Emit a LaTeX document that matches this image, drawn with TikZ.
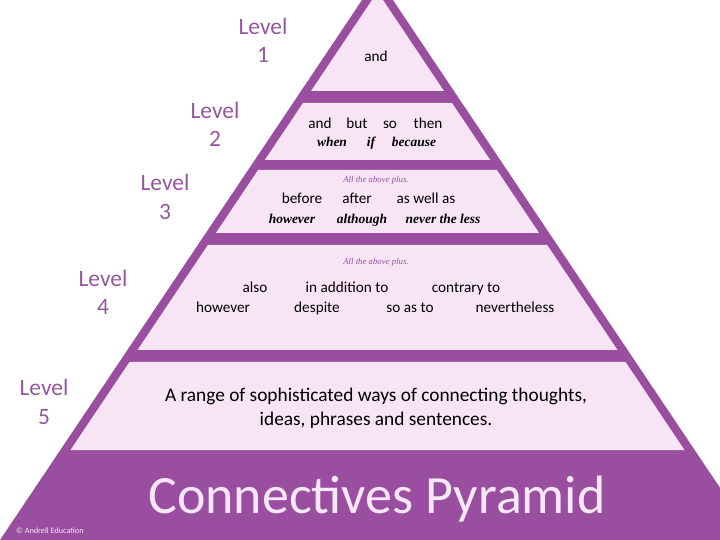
\documentclass[tikz,border=0pt]{standalone}
\usepackage{fontspec}
\setmainfont{Carlito}
\newfontfamily\serifit{Liberation Serif}
\usetikzlibrary{positioning}
\definecolor{PyrPurple}{RGB}{153,78,160}
\definecolor{PyrPink}{RGB}{247,228,244}
\definecolor{LabelPurple}{RGB}{150,85,160}
\definecolor{TitlePink}{RGB}{250,230,250}

\begin{document}
\begin{tikzpicture}[x=0.03cm, y=-0.03cm,
  levellab/.style={LabelPurple, align=center, font=\fontsize{20}{24}\selectfont},
  word/.style={anchor=base, font=\fontsize{13}{15}\selectfont},
  wordit/.style={anchor=base, font=\serifit\bfseries\itshape\fontsize{11.5}{13}\selectfont},
  plus/.style={anchor=base, LabelPurple, font=\serifit\itshape\fontsize{7.5}{9}\selectfont}]
\useasboundingbox (0,0) rectangle (720,540);
\clip (0,0) rectangle (720,540);

% Pyramid and bands
\fill[PyrPurple] (377.5,-23) -- (0,540) -- (755,540) -- cycle;
\foreach \ytop/\ybot in {-8/91, 103/160, 170/233, 245/350, 362/450} {
  \fill[PyrPink] ({372-0.67*\ytop},\ytop) -- ({383+0.67*\ytop},\ytop)
    -- ({383+0.67*\ybot},\ybot) -- ({372-0.67*\ybot},\ybot) -- cycle;
}

% Level labels
\foreach \n/\x/\y in {1/263/40, 2/215/124, 3/165/197, 4/103/292, 5/44/402} {
  \node[levellab] (lab\n) at (\x,\y) {Level\\\n};
}

% Level 1
\node[word] (w1) at (376,62) {and};

% Level 2
\foreach \i/\x/\txt in {a/320/and, b/357/but, c/390/so, d/428/then} {
  \node[word] (w2\i) at (\x,129) {\txt};
}
\foreach \i/\x/\txt in {a/332/when, b/371/if, c/414/because} {
  \node[wordit] (i2\i) at (\x,147) {\txt};
}

% Level 3
\node[plus] (p3) at (376,183) {All the above plus.};
\foreach \i/\x/\txt in {a/302/before, b/357/after, c/426/as well as} {
  \node[word] (w3\i) at (\x,204) {\txt};
}
\foreach \i/\x/\txt in {a/292/however, b/362/although, c/443/never the less} {
  \node[wordit] (i3\i) at (\x,224) {\txt};
}

% Level 4
\node[plus] (p4) at (376,265) {All the above plus.};
\foreach \i/\x/\txt in {a/255/also, b/347/in addition to, c/466/contrary to} {
  \node[word] (w4\i) at (\x,293) {\txt};
}
\foreach \i/\x/\txt in {a/223/however, b/317/despite, c/410/so as to, d/515/nevertheless} {
  \node[word] (v4\i) at (\x,313) {\txt};
}

% Level 5
\node[align=center, font=\fontsize{16.5}{20.5}\selectfont] (w5) at (376,408)
  {A range of sophisticated ways of connecting thoughts,\\ideas, phrases and sentences.};

% Title and credit
\node[anchor=base, TitlePink, font=\fontsize{46}{50}\selectfont] (title) at (377,513) {Connectives Pyramid};
\node[anchor=base west, TitlePink, font=\fontsize{7}{8}\selectfont] (credit) at (12,533) {© Andrell Education};
\end{tikzpicture}
\end{document}
